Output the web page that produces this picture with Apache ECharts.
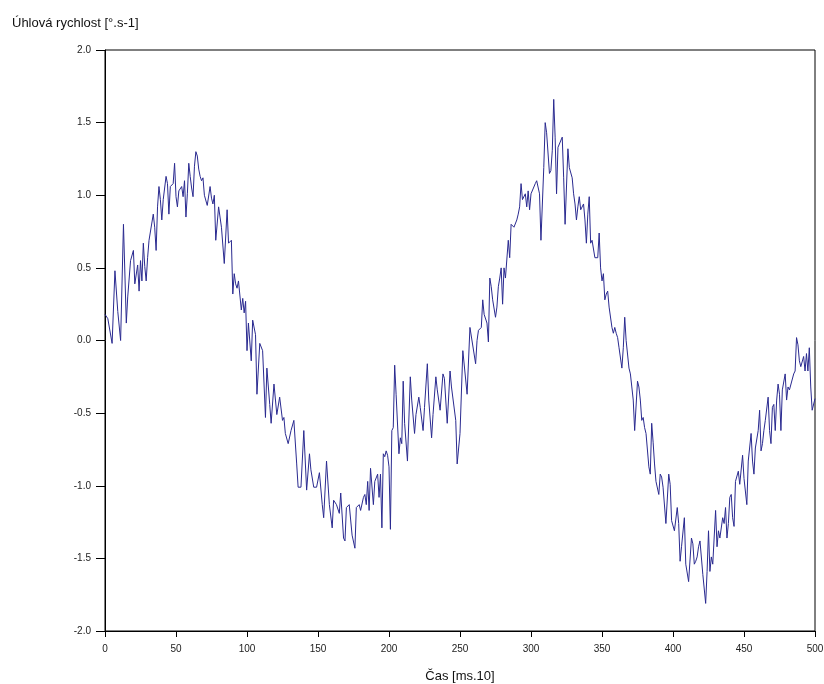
<!DOCTYPE html>
<html>
<head>
<meta charset="utf-8">
<script src="https://cdn.jsdelivr.net/npm/echarts@6/dist/echarts.min.js"></script>
<style>
html,body{margin:0;padding:0;background:#fff;}
#chart{width:824px;height:684px;}
</style>
</head>
<body>
<div id="chart"></div>
<script>
const titleText = "Úhlová rychlost [°.s-1]";
const xAxisName = "Čas [ms.10]";
const yTicks = [-2.0, -1.5, -1.0, -0.5, 0.0, 0.5, 1.0, 1.5, 2.0];
const xTicks = [0, 50, 100, 150, 200, 250, 300, 350, 400, 450, 500];

const timeMs10 = [
0,2,5,7,9,11,13,15,16,18,20,21,23,24,25,26,27,28,29,30,31,34,35,36,37,38,39,40,41,43,44,45,46,48,49,50,51,52,54,55,56,57,58,59,
60,61,62,63,64,65,66,67,68,69,70,72,74,75,76,77,78,80,81,82,84,86,87,89,90,91,92,93,94,96,97,98,99,
100,101,103,104,106,107,109,111,113,114,116,117,119,121,123,125,126,127,129,131,133,135,136,138,140,142,144,145,147,149,
151,153,154,156,158,160,161,163,165,166,168,169,170,172,174,176,177,179,180,182,183,184,185,186,187,189,190,192,193,194,195,196,197,198,199,
200,201,202,203,204,205,207,208,209,210,211,213,215,216,218,219,221,222,224,225,227,228,230,231,233,234,236,238,239,241,243,244,247,248,
250,252,253,255,257,258,261,262,263,265,266,267,269,270,271,272,273,275,276,277,278,279,280,281,282,284,285,286,288,290,291,292,293,294,296,297,298,299,
300,303,304,306,307,309,310,311,313,314,315,316,317,318,319,322,323,324,326,327,329,330,331,332,333,334,335,337,338,339,340,341,342,343,345,347,348,349,
350,351,352,353,354,355,357,358,359,360,361,362,364,365,366,367,369,370,371,372,373,375,376,377,378,379,380,381,383,384,385,386,387,388,390,391,392,393,395,397,398,399,
401,403,404,405,406,408,409,411,413,414,415,416,417,418,419,421,423,424,425,426,427,428,430,431,432,433,435,436,437,438,439,440,441,442,443,444,446,447,449,
450,452,453,455,456,457,458,460,461,462,463,464,465,467,468,469,470,471,472,473,474,475,476,477,479,480,481,482,485,486,487,488,489,490,492,493,494,495,496,497,498,500
];

const angularVelocity = [
0.18,0.15,-0.02,0.48,0.20,0.00,0.80,0.12,0.30,0.55,0.62,0.39,0.52,0.34,0.55,0.41,0.67,0.51,0.41,0.57,0.69,0.87,0.78,0.62,0.92,1.06,0.97,0.83,0.97,1.13,1.08,0.87,1.06,1.08,1.22,0.99,0.92,1.03,1.06,0.99,1.10,0.85,1.01,1.22,
1.13,1.05,0.99,1.20,1.30,1.27,1.18,1.13,1.10,1.12,1.00,0.93,1.06,0.98,0.94,1.00,0.69,0.92,0.85,0.78,0.53,0.90,0.67,0.69,0.32,0.46,0.39,0.36,0.41,0.21,0.29,0.19,0.27,
-0.07,0.12,-0.14,0.14,0.04,-0.37,-0.02,-0.07,-0.53,-0.19,-0.44,-0.57,-0.30,-0.51,-0.39,-0.55,-0.53,-0.64,-0.71,-0.62,-0.55,-0.85,-1.01,-1.01,-0.62,-1.03,-0.78,-0.89,-1.01,-1.01,
-0.91,-1.13,-1.22,-0.83,-1.13,-1.29,-1.10,-1.13,-1.19,-1.05,-1.36,-1.38,-1.15,-1.13,-1.34,-1.43,-1.15,-1.13,-1.17,-1.08,-1.06,-1.13,-0.97,-1.17,-0.88,-1.13,-0.97,-0.92,-1.08,-0.92,-1.29,-0.78,-0.80,-0.76,-0.79,
-0.87,-1.30,-0.62,-0.60,-0.17,-0.37,-0.78,-0.67,-0.71,-0.28,-0.57,-0.83,-0.25,-0.41,-0.64,-0.51,-0.39,-0.46,-0.62,-0.46,-0.16,-0.41,-0.67,-0.51,-0.25,-0.34,-0.48,-0.23,-0.26,-0.57,-0.21,-0.32,-0.55,-0.85,
-0.64,-0.07,-0.06,-0.37,0.09,0.09,-0.16,0.00,0.07,0.09,0.28,0.18,0.12,-0.01,0.43,0.37,0.28,0.16,0.23,0.37,0.43,0.50,0.25,0.50,0.43,0.69,0.57,0.80,0.78,0.83,0.87,0.92,1.08,0.97,1.01,0.92,1.03,0.90,
1.01,1.08,1.10,1.01,0.69,1.19,1.50,1.43,1.15,1.17,1.31,1.66,1.40,1.01,1.33,1.40,1.12,0.80,1.32,1.19,1.12,1.01,0.94,0.83,0.92,0.99,0.90,0.94,0.83,0.67,0.87,0.99,0.67,0.69,0.57,0.57,0.74,0.50,
0.41,0.46,0.28,0.32,0.34,0.23,0.09,0.05,0.09,0.05,0.02,-0.05,-0.19,-0.05,0.16,0.00,-0.19,-0.23,-0.32,-0.41,-0.62,-0.28,-0.32,-0.41,-0.55,-0.53,-0.60,-0.64,-0.87,-0.92,-0.57,-0.70,-0.85,-0.97,-1.06,-0.92,-0.94,-1.01,-1.26,-0.92,-0.99,-1.24,
-1.31,-1.15,-1.26,-1.52,-1.42,-1.22,-1.54,-1.66,-1.36,-1.40,-1.54,-1.52,-1.49,-1.42,-1.38,-1.61,-1.81,-1.59,-1.31,-1.59,-1.49,-1.54,-1.17,-1.42,-1.31,-1.36,-1.22,-1.26,-1.15,-1.36,-1.26,-1.08,-1.06,-1.22,-1.28,-0.97,-0.90,-0.99,-0.79,
-0.95,-1.13,-0.83,-0.64,-0.83,-0.92,-0.74,-0.62,-0.48,-0.76,-0.71,-0.62,-0.55,-0.39,-0.62,-0.71,-0.46,-0.44,-0.62,-0.41,-0.30,-0.37,-0.62,-0.34,-0.23,-0.41,-0.32,-0.34,-0.23,-0.21,0.02,-0.03,-0.14,-0.18,-0.11,-0.21,-0.09,-0.21,-0.05,-0.32,-0.48,-0.40
];

const seriesData = timeMs10.map((t, i) => [t, angularVelocity[i]]);

const chart = echarts.init(document.getElementById('chart'), null, {renderer: 'canvas'});
const fontFam = '"Liberation Sans", Arial, sans-serif';
chart.setOption({
  animation: false,
  backgroundColor: '#ffffff',
  title: {
    text: titleText,
    left: 7,
    top: 12,
    textStyle: {fontFamily: fontFam, fontSize: 13, fontWeight: 'normal', color: '#111'}
  },
  grid: {
    left: 105, right: 9, top: 50, bottom: 53,
    outerBoundsMode: 'none',
    containLabel: false,
    show: true, borderColor: '#000', borderWidth: 1, backgroundColor: 'transparent'
  },
  xAxis: {
    type: 'value',
    min: xTicks[0], max: xTicks[xTicks.length - 1], interval: 50,
    name: xAxisName,
    nameLocation: 'middle',
    nameGap: 39,
    nameTextStyle: {fontFamily: fontFam, fontSize: 13, color: '#111'},
    axisLine: {show: true, onZero: false, lineStyle: {color: '#000', width: 1}},
    axisTick: {show: true, inside: false, length: 6, lineStyle: {color: '#000'}},
    axisLabel: {fontFamily: fontFam, fontSize: 10, color: '#222', margin: 13},
    splitLine: {show: false}
  },
  yAxis: {
    type: 'value',
    min: yTicks[0], max: yTicks[yTicks.length - 1], interval: 0.5,
    axisLine: {show: true, onZero: false, lineStyle: {color: '#000', width: 1}},
    axisTick: {show: true, inside: false, length: 9, lineStyle: {color: '#000'}},
    axisLabel: {fontFamily: fontFam, fontSize: 10, color: '#222', margin: 14,
      formatter: v => v.toFixed(1)},
    splitLine: {show: false}
  },
  series: [{
    type: 'line',
    data: seriesData,
    showSymbol: false,
    symbol: 'none',
    lineStyle: {color: '#2a2a90', width: 1},
    smooth: false
  }]
});
</script>
</body>
</html>
